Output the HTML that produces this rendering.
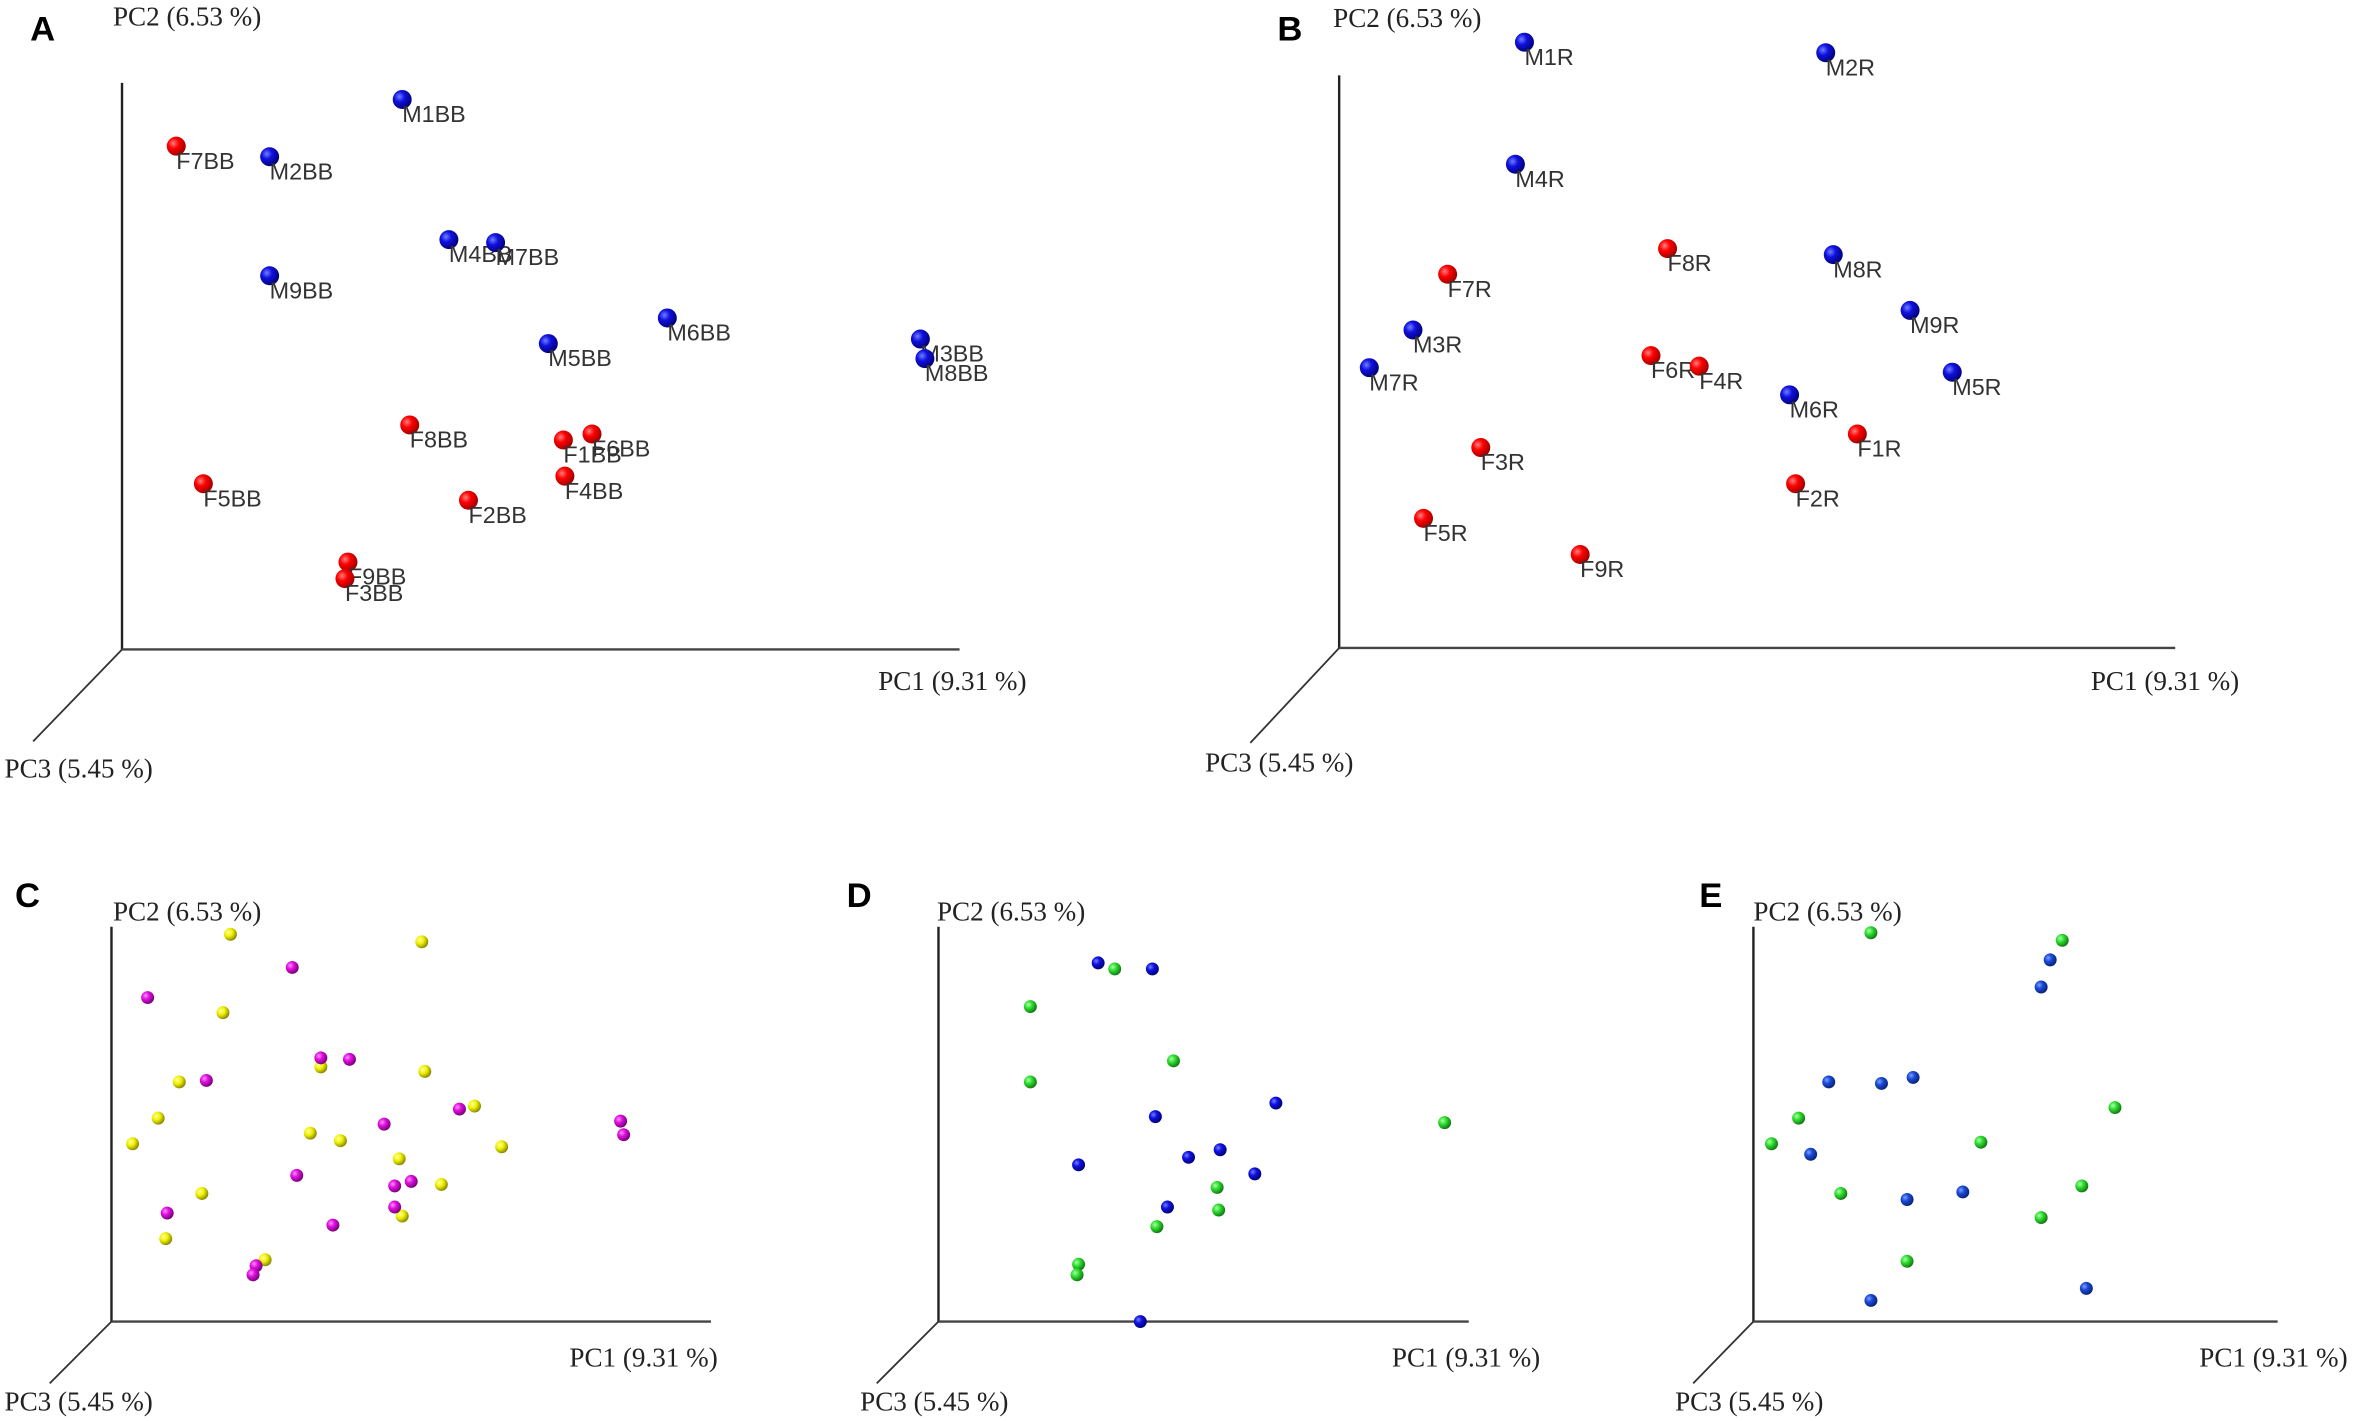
<!DOCTYPE html>
<html><head><meta charset="utf-8"><style>
html,body{margin:0;padding:0;background:#fff;}
svg{display:block;}
.ax{font-family:"Liberation Serif",serif;font-size:18px;fill:#222;}
.pl{font-family:"Liberation Sans",sans-serif;font-size:15.5px;fill:#333;}
.lt{font-family:"Liberation Sans",sans-serif;font-size:23px;font-weight:bold;fill:#000;}
</style></head><body>
<svg id="fig" width="2362" height="1421" viewBox="0 0 1568 943" preserveAspectRatio="none" xmlns="http://www.w3.org/2000/svg">
<defs>
<radialGradient id="gRed" cx="35%" cy="35%" r="70%"><stop offset="0" stop-color="#ff8080"/><stop offset="0.4" stop-color="#f00"/><stop offset="1" stop-color="#900"/></radialGradient>
<radialGradient id="gBlue" cx="35%" cy="35%" r="70%"><stop offset="0" stop-color="#7080ff"/><stop offset="0.4" stop-color="#1010e0"/><stop offset="1" stop-color="#000070"/></radialGradient>
<radialGradient id="gBlue2" cx="35%" cy="35%" r="70%"><stop offset="0" stop-color="#80a0ff"/><stop offset="0.4" stop-color="#1a4ad8"/><stop offset="1" stop-color="#0a2070"/></radialGradient>
<radialGradient id="gYel" cx="35%" cy="35%" r="70%"><stop offset="0" stop-color="#ffffa0"/><stop offset="0.45" stop-color="#f0f000"/><stop offset="1" stop-color="#808000"/></radialGradient>
<radialGradient id="gMag" cx="35%" cy="35%" r="70%"><stop offset="0" stop-color="#ff90ff"/><stop offset="0.4" stop-color="#e010e0"/><stop offset="1" stop-color="#700070"/></radialGradient>
<radialGradient id="gGrn" cx="35%" cy="35%" r="70%"><stop offset="0" stop-color="#b0ffb0"/><stop offset="0.4" stop-color="#30e030"/><stop offset="1" stop-color="#107010"/></radialGradient>
</defs>
</svg>
<script>
// Panel A data (PC1 / PC2 scores in plot units relative to origin)
const aLabels=["M1BB","F7BB","M2BB","M4BB","M7BB","M9BB","M6BB","M5BB","M3BB","M8BB","F8BB","F1BB","F6BB","F4BB","F5BB","F2BB","F9BB","F3BB"];
const aPC1=[186,36,98,217,248,98,362,283,530,533,191,293,312,294,54,230,150,148];
const aPC2=[365,334,327,272,270,248,220,203,206,193,149,139,143,115,110,99,58,47];
// Panel B data
const bLabels=["M1R","M2R","M4R","F8R","M8R","F7R","M9R","M3R","M7R","F6R","F4R","M5R","M6R","F1R","F3R","F2R","F5R","F9R"];
const bPC1=[123,323,117,218,328,72,379,49,20,207,239,407,299,344,94,303,56,160];
const bPC2=[402,395,321,265,261,248,224,211,186,194,187,183,168,142,133,109,86,62];
// Panel C data
const cYelPC1=[79,206,74,45,139,208,31,14,132,152,241,259,191,219,60,193,36,102];
const cYelPC2=[257,252,205,159,169,166,135,118,125,120,143,116,108,91,85,70,55,41];
const cMagPC1=[120,24,139,158,63,231,181,338,340,123,188,199,37,188,147,96,94];
const cMagPC2=[235,215,175,174,160,141,131,133,124,97,90,93,72,76,64,37,31];
// Panel D data
const dBluPC1=[106,142,224,144,187,166,93,210,152,134];
const dBluPC2=[238,234,145,136,114,109,104,98,76,0];
const dGrnPC1=[117,61,156,61,336,185,186,145,93,92];
const dGrnPC2=[234,209,173,159,132,89,74,63,38,31];
// Panel E data
const eGrnPC1=[78,205,30,12,151,240,58,218,191,102];
const eGrnPC2=[258,253,135,118,119,142,85,90,69,40];
const eBluPC1=[197,191,50,85,106,38,102,139,221,78];
const eBluPC2=[240,222,159,158,162,111,81,86,22,14];

const NS="http://www.w3.org/2000/svg";
const svg=document.getElementById('fig');
function mk(tag,attrs,parent){const e=document.createElementNS(NS,tag);for(const k in attrs)e.setAttribute(k,attrs[k]);(parent||svg).appendChild(e);return e;}
function panel(id,letter,lx,ly,ox,oy,ytop,xend,dx,dy,pc2lab,pc1lab,pc3lab){
  const g=mk('g',{});
  
  
  const t=mk('text',{x:lx,y:ly,class:'lt'},g);t.textContent=letter;
  
  
  const ya=mk('line',{x1:ox,y1:oy,x2:ox,y2:ytop,stroke:'#222','stroke-width':1.6},g);
  
  
  const xa=mk('line',{x1:ox,y1:oy,x2:xend,y2:oy,stroke:'#444','stroke-width':1.6},g);
  
  
  const za=mk('line',{x1:ox,y1:oy,x2:dx,y2:dy,stroke:'#333','stroke-width':1.2},g);
  
  
  const a=mk('text',{x:pc2lab[0],y:pc2lab[1],class:'ax'},g);a.textContent='PC2 (6.53 %)';
  
  
  const b=mk('text',{x:pc1lab[0],y:pc1lab[1],class:'ax'},g);b.textContent='PC1 (9.31 %)';
  
  
  const c=mk('text',{x:pc3lab[0],y:pc3lab[1],class:'ax'},g);c.textContent='PC3 (5.45 %)';
  
  
  return {g,xs:v=>ox+v,ys:v=>oy-v};
}
function series(p,pc1,pc2,fill,r,name){
  for(let i=0;i<pc1.length;i++){
    const x=p.xs(pc1[i]),y=p.ys(pc2[i]);
    const c=mk('circle',{cx:x,cy:y,r:r,fill:fill},p.g);
    
    
  }
}
function labelled(p,pc1,pc2,labels){
  for(let i=0;i<pc1.length;i++){
    const f=labels[i][0]==='F';
    const x=p.xs(pc1[i]),y=p.ys(pc2[i]);
    const c=mk('circle',{cx:x,cy:y,r:6.3,fill:f?'url(#gRed)':'url(#gBlue)'},p.g);
    
    
    const t=mk('text',{x:x,y:y+15,class:'pl'},p.g);t.textContent=labels[i];
    
    
  }
}
const A=panel('a','A',20,27,81,431,55,637,22,492,[75,17],[583,458],[3,516]);
labelled(A,aPC1,aPC2,aLabels);
const B=panel('b','B',848,27,889,430,50,1444,830,493,[885,18],[1388,458],[800,512]);
labelled(B,bPC1,bPC2,bLabels);
const C=panel('c','C',10,602,74,877,615,472,33,918,[75,611],[378,907],[3,936]);
series(C,cYelPC1,cYelPC2,'url(#gYel)',4.3,'yellow-group');
series(C,cMagPC1,cMagPC2,'url(#gMag)',4.3,'magenta-group');
const D=panel('d','D',562,602,623,877,615,975,582,918,[622,611],[924,907],[571,936]);
series(D,dBluPC1,dBluPC2,'url(#gBlue)',4.3,'blue-group');
series(D,dGrnPC1,dGrnPC2,'url(#gGrn)',4.3,'green-group');
const E=panel('e','E',1128,602,1164,877,615,1512,1124,918,[1164,611],[1460,907],[1112,936]);
series(E,eGrnPC1,eGrnPC2,'url(#gGrn)',4.3,'green-group');
series(E,eBluPC1,eBluPC2,'url(#gBlue2)',4.3,'blue-group');
</script>
</body></html>
